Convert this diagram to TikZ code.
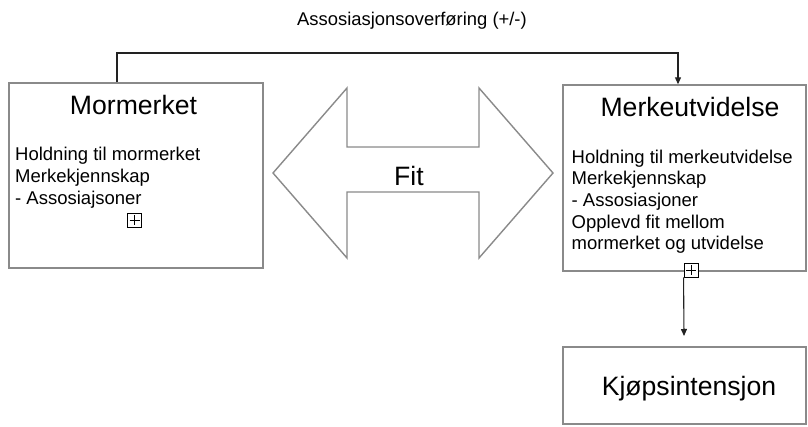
\documentclass[tikz,border=0pt]{standalone}
\usepackage{fontspec}
\setmainfont{Liberation Sans}
\usetikzlibrary{arrows.meta}
\definecolor{boxgray}{HTML}{8A8A8A}
\definecolor{linedark}{HTML}{222222}
\begin{document}
\begin{tikzpicture}[x=1pt,y=-1pt,
  box/.style={draw=boxgray, line width=1.4pt, inner sep=0pt, fill=white},
  titletext/.style={font=\fontsize{26.6}{30}\selectfont, anchor=base, inner sep=0pt},
  bodytext/.style={font=\fontsize{18.5}{21.6}\selectfont, align=left, anchor=north west, inner sep=0pt},
  labeltext/.style={font=\fontsize{18.4}{21.6}\selectfont, anchor=base, inner sep=0pt},
  conn/.style={draw=linedark, line width=1.1pt, -{Triangle[length=7pt,width=6pt]}},
  plusbox/.style={draw=black, line width=0.9pt, fill=white, minimum size=14pt, inner sep=0pt,
    path picture={\draw[line width=0.9pt] ([yshift=5pt]path picture bounding box.center) -- ([yshift=-5pt]path picture bounding box.center);
                  \draw[line width=0.9pt] ([xshift=-5pt]path picture bounding box.center) -- ([xshift=5pt]path picture bounding box.center);}},
  bigarrow/.style={draw=boxgray, line width=1.4pt, fill=white, line join=miter}
]
\useasboundingbox (0,0) rectangle (808,426);

% boxes
\node[box, minimum width=254pt, minimum height=185pt] (mor) at (136,175.5) {};
\node[box, minimum width=243pt, minimum height=186pt] (ext) at (684.5,178) {};
\node[box, minimum width=243pt, minimum height=77pt] (kjop) at (684.5,385.5) {};

% titles
\node[titletext] (mortitle) at (133.5,114.5) {Mormerket};
\node[titletext] (exttitle) at (690,116.7) {Merkeutvidelse};
\node[titletext] (kjoptitle) at (689,395) {Kjøpsintensjon};

% body texts
\node[bodytext] (morbody) at (15,147.2) {Holdning til mormerket\\Merkekjennskap\\- Assosiajsoner};
\node[bodytext] (extbody) at (571.5,149.7) {Holdning til merkeutvidelse\\Merkekjennskap\\- Assosiasjoner\\Opplevd fit mellom\\mormerket og utvidelse};

% plus markers
\node[plusbox] (morplus) at (134.5,220) {};
\node[plusbox] (extplus) at (691,270) {};

% double arrow "Fit"
\draw[bigarrow] (273,173) -- (347,88) -- (347,147) -- (479,147) -- (479,88) -- (553,173)
  -- (479,258) -- (479,192) -- (347,192) -- (347,258) -- cycle;
\node[titletext] (fit) at (409,185) {Fit};

% association transfer connector
\coordinate (topL) at (117,53);
\coordinate (topR) at (678,53);
\draw[conn] (mor.north -| topL) -- (topL) -- (topR) -- (ext.north -| topR);
\node[labeltext] (assoc) at (412,25) {Assosiasjonsoverføring (+/-)};

% extension -> purchase intention
\coordinate (kjopin) at (684,336);
\draw[conn] (extplus.south west) -- (kjopin);
\end{tikzpicture}
\end{document}
